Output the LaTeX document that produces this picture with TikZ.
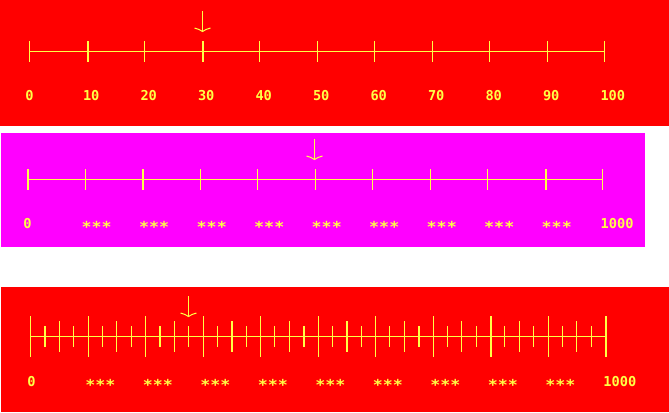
\documentclass[tikz,border=0pt]{standalone}
\usepackage{fontspec}
\setmonofont{DejaVu Sans Mono}
\definecolor{yel}{RGB}{255,255,70}
\definecolor{bgred}{RGB}{255,0,0}
\definecolor{bgmag}{RGB}{255,0,255}
\tikzset{
  axisline/.style={draw=yel, line width=1bp},
  thintick/.style={draw=yel, line width=1bp},
  thicktick/.style={draw=yel, line width=2bp},
  pointer/.style={draw=yel, line width=1.5bp},
  barb/.style={draw=yel, line width=1bp},
  lbl/.style={text=yel, font=\ttfamily\bfseries\fontsize{13.7}{14}\selectfont, anchor=base west, inner sep=0pt},
}
\newcommand{\stars}{\raisebox{-4.2pt}{\scalebox{1.22}[1.1]{***}}}
\begin{document}
\begin{tikzpicture}[x=1bp,y=-1bp]
\useasboundingbox (0,0) rectangle (669,412);
\fill[white] (0,0) rectangle (669,412);
\fill[bgred] (0,0) rectangle (669,126);
\fill[bgmag] (1,133) rectangle (645,247);
\fill[bgred] (1,287) rectangle (669,412);

% ---------- panel 1 ----------
\coordinate (a0) at (29.5,51.5);
\coordinate (a10) at (604.5,51.5);
\draw[axisline] (a0) -- (a10);
\foreach \i in {0,...,10} {
  \pgfmathsetmacro\x{round(29+57.5*\i)+0.5}
  \draw[thintick] (\x,41) -- (\x,62);
}
\foreach \i in {1,3} {
  \pgfmathsetmacro\x{round(29+57.5*\i)+0.5}
  \draw[thicktick] (\x,41) -- (\x,62);
}
\foreach \i/\t in {0/0,1/10,2/20,3/30,4/40,5/50,6/60,7/70,8/80,9/90,10/100} {
  \node[lbl] (la\i) at ({25.3+57.5*\i},100.7) {\t};
}
\coordinate (ptA) at (202.5,11);
\coordinate (tipA) at (202.5,31.5);
\draw[pointer] (ptA) -- (tipA);
\draw[barb] ([shift={(-8,-3.5)}]tipA) -- ([shift={(-3.5,-2)}]tipA) -- (tipA) -- ([shift={(3.5,-2)}]tipA) -- ([shift={(8,-3.5)}]tipA);

% ---------- panel 2 ----------
\coordinate (b0) at (27.5,179.5);
\coordinate (b10) at (602.5,179.5);
\draw[axisline] (b0) -- (b10);
\foreach \i in {0,...,10} {
  \pgfmathsetmacro\x{round(27+57.5*\i)+0.5}
  \draw[thintick] (\x,169) -- (\x,190);
}
\foreach \i in {0,2,9} {
  \pgfmathsetmacro\x{round(27+57.5*\i)+0.5}
  \draw[thicktick] (\x,169) -- (\x,190);
}
\node[lbl] (lb0) at (23.2,228.7) {0};
\foreach \i in {1,...,9} {
  \node[lbl] (lb\i) at ({81.5+57.5*(\i-1)},228.7) {\stars};
}
\node[lbl] (lb10) at (600.5,228.7) {1000};
\coordinate (ptB) at (314.5,139);
\coordinate (tipB) at (314.5,159.5);
\draw[barb] (ptB) -- (tipB);
\draw[barb] ([shift={(-8,-3.5)}]tipB) -- ([shift={(-3.5,-2)}]tipB) -- (tipB) -- ([shift={(3.5,-2)}]tipB) -- ([shift={(8,-3.5)}]tipB);

% ---------- panel 3 ----------
\coordinate (c0) at (30.5,336.5);
\coordinate (c40) at (605.5,336.5);
\draw[axisline] (c0) -- (c40);
\foreach \i in {0,...,40} {
  \pgfmathtruncatemacro\m{mod(\i,4)}
  \pgfmathsetmacro\h{\m==0 ? 20.5 : (\m==2 ? 15.5 : 10.5)}
  \pgfmathsetmacro\x{round(30+14.375*\i)+0.5}
  \draw[thintick] (\x,{336.5-\h}) -- (\x,{336.5+\h});
}
\foreach \i in {1,9,14,19,22,27,32,40} {
  \pgfmathtruncatemacro\m{mod(\i,4)}
  \pgfmathsetmacro\h{\m==0 ? 20.5 : (\m==2 ? 15.5 : 10.5)}
  \pgfmathsetmacro\x{round(30+14.375*\i)+0.5}
  \draw[thicktick] (\x,{336.5-\h}) -- (\x,{336.5+\h});
}
\node[lbl] (lc0) at (27.2,386) {0};
\foreach \i in {1,...,9} {
  \node[lbl] (lc\i) at ({85.2+57.5*(\i-1)},386) {\stars};
}
\node[lbl] (lc10) at (603.2,386) {1000};
\coordinate (ptC) at (188.5,296);
\coordinate (tipC) at (188.5,316.5);
\draw[barb] (ptC) -- (tipC);
\draw[barb] ([shift={(-8,-3.5)}]tipC) -- ([shift={(-3.5,-2)}]tipC) -- (tipC) -- ([shift={(3.5,-2)}]tipC) -- ([shift={(8,-3.5)}]tipC);
\end{tikzpicture}
\end{document}
